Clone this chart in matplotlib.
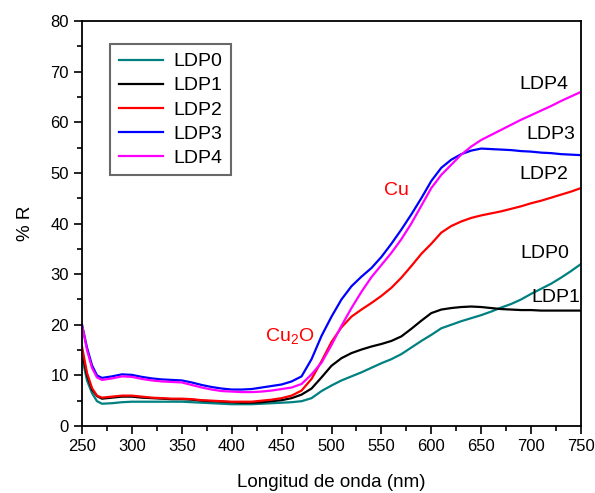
import numpy as np
import matplotlib
matplotlib.use("Agg")
import matplotlib.pyplot as plt
from matplotlib.ticker import MultipleLocator

plt.rcParams['font.family'] = ['Liberation Sans', 'DejaVu Sans']

wavelength = [250, 255, 260, 265] + list(range(270, 751, 10))

ldp0 = [13.7, 9.0, 6.5, 4.9,
        4.4, 4.5, 4.7, 4.8, 4.8, 4.8, 4.8, 4.8, 4.8, 4.7, 4.6, 4.5, 4.4, 4.3,
        4.3, 4.3, 4.4, 4.5, 4.6, 4.7, 4.9, 5.5, 6.9, 8.0, 9.0, 9.8, 10.6, 11.5,
        12.4, 13.2, 14.2, 15.5, 16.8, 18.0, 19.3, 20.0, 20.7, 21.3, 21.9, 22.6,
        23.4, 24.1, 25.0, 26.1, 27.1, 28.1, 29.3, 30.6, 32.0]
ldp1 = [14.7, 10.0, 7.2, 5.9,
        5.4, 5.6, 5.8, 5.8, 5.6, 5.5, 5.4, 5.3, 5.3, 5.2, 5.0, 4.9, 4.8, 4.7,
        4.6, 4.6, 4.7, 4.9, 5.1, 5.5, 6.2, 7.4, 9.6, 11.9, 13.4, 14.4, 15.1, 15.7,
        16.2, 16.8, 17.7, 19.2, 20.8, 22.3, 23.0, 23.3, 23.5, 23.6, 23.5, 23.3,
        23.1, 23.0, 22.9, 22.9, 22.8, 22.8, 22.8, 22.8, 22.8]
ldp2 = [15.7, 10.5, 7.5, 6.0,
        5.6, 5.8, 6.0, 6.0, 5.8, 5.6, 5.5, 5.4, 5.4, 5.3, 5.1, 5.0, 4.9, 4.8,
        4.8, 4.8, 5.0, 5.2, 5.5, 6.0, 7.0, 9.3, 12.8, 16.6, 19.5, 21.6, 23.0, 24.3,
        25.7, 27.3, 29.3, 31.6, 34.0, 36.0, 38.2, 39.5, 40.4, 41.1, 41.6, 42.0,
        42.4, 42.9, 43.4, 44.0, 44.5, 45.1, 45.7, 46.3, 47.0]
ldp3 = [20.0, 15.5, 12.0, 10.0,
        9.5, 9.8, 10.2, 10.1, 9.7, 9.4, 9.2, 9.1, 9.0, 8.6, 8.1, 7.7, 7.4, 7.2,
        7.2, 7.3, 7.6, 7.9, 8.2, 8.8, 9.8, 13.2, 17.8, 21.6, 25.0, 27.6, 29.5, 31.2,
        33.4, 36.0, 38.8, 41.8, 45.0, 48.4, 51.0, 52.6, 53.7, 54.4, 54.8, 54.7,
        54.6, 54.5, 54.3, 54.2, 54.0, 53.9, 53.7, 53.6, 53.5]
ldp4 = [20.0, 15.0, 11.5, 9.6,
        9.1, 9.4, 9.8, 9.7, 9.3, 9.0, 8.8, 8.7, 8.6, 8.1, 7.6, 7.2, 6.9, 6.8,
        6.7, 6.7, 6.8, 7.0, 7.3, 7.6, 8.3, 10.2, 12.5, 16.0, 19.8, 23.3, 26.5, 29.4,
        31.8, 34.2, 36.9, 40.0, 43.5, 47.0, 49.6, 51.6, 53.6, 55.2, 56.5, 57.5,
        58.5, 59.5, 60.5, 61.4, 62.3, 63.2, 64.2, 65.1, 66.0]

series = [ldp0, ldp1, ldp2, ldp3, ldp4]
names = ["LDP0", "LDP1", "LDP2", "LDP3", "LDP4"]
colors = ["#008080", "#000000", "#FF0000", "#0000FF", "#FF00FF"]

end_labels = ["LDP0", "LDP1", "LDP2", "LDP3", "LDP4"]
end_pos = [(714, 34.0), (725, 25.3), (713, 49.6), (720, 57.5), (713, 67.4)]

fig = plt.figure(figsize=(5.95, 4.93), dpi=100)
ax = fig.add_axes([82/595, 1-426/493, 499/595, 405/493])

for y, n, c in zip(series, names, colors):
    ax.plot(wavelength, y, color=c, lw=1.6, label=n)

ax.set_xlim(250, 750)
ax.set_ylim(0, 80)
ax.xaxis.set_major_locator(MultipleLocator(50))
ax.xaxis.set_minor_locator(MultipleLocator(25))
ax.yaxis.set_major_locator(MultipleLocator(10))
ax.yaxis.set_minor_locator(MultipleLocator(5))
ax.tick_params(which='major', direction='out', length=6, width=1.2, labelsize=12)
ax.tick_params(which='minor', direction='out', length=3.5, width=1.2)
for s in ax.spines.values():
    s.set_linewidth(1.3)

ax.set_xlabel("Longitud de onda (nm)", fontsize=13.5, labelpad=14)
ax.set_ylabel("% R", fontsize=13.5, labelpad=12)

for t, (x, y) in zip(end_labels, end_pos):
    ax.text(x, y, t, fontsize=14, ha='center', va='center')

ax.text(565, 46.6, "Cu", fontsize=14, color='#FF0000', ha='center', va='center')
ax.text(458, 17.6, "Cu$_\\mathregular{2}$O", fontsize=14, color='#FF0000', ha='center', va='center')

leg = ax.legend(loc='upper left', bbox_to_anchor=(0.056, 0.943), borderaxespad=0,
                fontsize=14, handlelength=2.3, handletextpad=0.5, labelspacing=0.33,
                fancybox=False, frameon=True, borderpad=0.45)
leg.get_frame().set_edgecolor('#444444')
leg.get_frame().set_linewidth(1.5)

fig.savefig("out.png", dpi=100)
